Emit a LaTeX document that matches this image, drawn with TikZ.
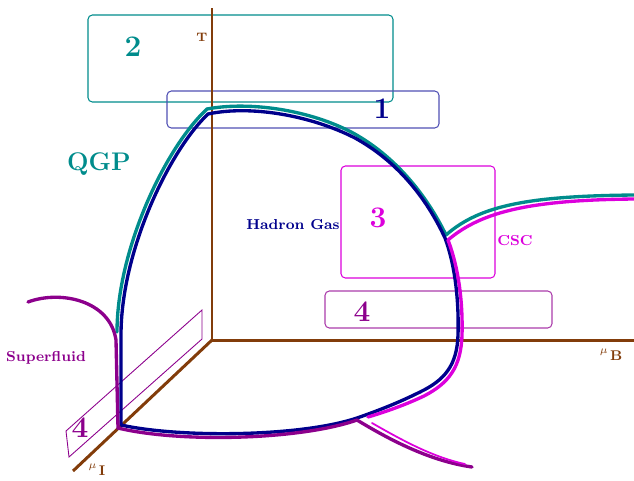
\documentclass[tikz,border=0pt]{standalone}
\usepackage{tikz}
\usetikzlibrary{calc}
\definecolor{axisbrown}{RGB}{130,60,10}
\definecolor{qgpteal}{RGB}{0,140,140}
\definecolor{hadnavy}{RGB}{0,0,140}
\definecolor{boxnavy}{RGB}{80,80,180}
\definecolor{cscmag}{RGB}{220,0,220}
\definecolor{sfpurple}{RGB}{140,0,140}
\definecolor{boxpurple}{RGB}{170,60,170}

\begin{document}
\begin{tikzpicture}[x=0.02cm,y=-0.02cm,
	curve/.style={line width=1.9pt, line cap=round},
	regbox/.style={rounded corners=2.5pt, line width=0.6pt},
	bignum/.style={font=\fontsize{17}{20}\selectfont\bfseries},
	phase/.style={font=\fontsize{8.2}{10}\selectfont\bfseries}]
	\useasboundingbox (0,0) rectangle (634,480);
	\path (212,340) coordinate (o);
	\path (212,8) coordinate (taxis);
	\path (634,340) coordinate (mbaxis);
	\path (73,471) coordinate (miaxis);

	% regions
	\draw[regbox, qgpteal] (88,15) rectangle (393,102);
	\draw[regbox, boxnavy] (167,91) rectangle (439,128);
	\draw[regbox, cscmag] (341,166) rectangle (495,278);
	\draw[regbox, boxpurple] (325,291) rectangle (552,328);
	\draw[sfpurple, line width=0.5pt] (66,431) -- (202,310) -- (202,339) -- (69,457) -- cycle;
	\node[bignum, qgpteal] (num2) at (133,47) {2};
	\node[bignum, hadnavy] (num1) at (382,109) {1};
	\node[bignum, cscmag] (num3) at (378,218) {3};
	\node[bignum, sfpurple] (num4) at (362,312) {4};
	\node[bignum, sfpurple] (num4i) at (80,428) {4};

	% axes
	\draw[axisbrown, line width=1.7pt] (taxis) -- (o) -- (mbaxis);
	\draw[axisbrown, line width=1.7pt] (o) -- (miaxis);
	\node[axisbrown, font=\fontsize{7}{8}\selectfont\bfseries] (tlab) at (202,37) {T};
	\node[axisbrown, font=\fontsize{8}{9}\selectfont\bfseries] (mblab) at (611,355) {\raisebox{4pt}{$\scriptstyle\mu$}\,B};
	\node[axisbrown, font=\fontsize{8}{9}\selectfont\bfseries] (milab) at (97,470) {\raisebox{4pt}{$\scriptstyle\mu$}\,I};

	% quark gluon plasma
	\draw[curve, qgpteal] (117,332) .. controls (117,250) and (165,148) .. (207,109)
		.. controls (250,101) and (310,110) .. (353,133)
		.. controls (393,155) and (425,192) .. (446,235);
	\draw[curve, qgpteal] (446,235) .. controls (480,205) and (530,196) .. (634,195);
	% hadron gas
	\draw[curve, hadnavy] (121,425) -- (121,335) .. controls (121,250) and (170,150) .. (208,114)
		.. controls (250,105) and (310,115) .. (355,138)
		.. controls (395,160) and (425,195) .. (445,238)
		.. controls (455,265) and (459,300) .. (458,335)
		.. controls (457,365) and (445,380) .. (420,392)
		.. controls (400,402) and (380,410) .. (357,418)
		.. controls (300,437) and (180,438) .. (121,425);
	% superfluid
	\draw[curve, sfpurple] (28,302) .. controls (60,290) and (110,300) .. (116,340) -- (118,428)
		.. controls (180,443) and (300,440) .. (357,420);
	\draw[curve, sfpurple] (357,420) .. controls (390,440) and (430,461) .. (472,467);
	% colour superconductor
	\draw[curve, cscmag] (448,240) .. controls (482,211) and (532,200) .. (634,199);
	\draw[curve, cscmag] (448,240) .. controls (458,266) and (463,300) .. (462,335)
		.. controls (461,367) and (449,383) .. (424,396)
		.. controls (405,405) and (385,412) .. (368,417);
	\draw[cscmag, line width=1pt, line cap=round] (372,423) .. controls (400,439) and (432,457) .. (465,464);

	\node[qgpteal, font=\fontsize{14.5}{16}\selectfont\bfseries] (qgp) at (99,164) {QGP};
	\node[phase, hadnavy] (hg) at (293,225) {Hadron Gas};
	\node[phase, cscmag] (csc) at (515,241) {CSC};
	\node[phase, sfpurple] (sf) at (46,358) {Superfluid};
\end{tikzpicture}
\end{document}
